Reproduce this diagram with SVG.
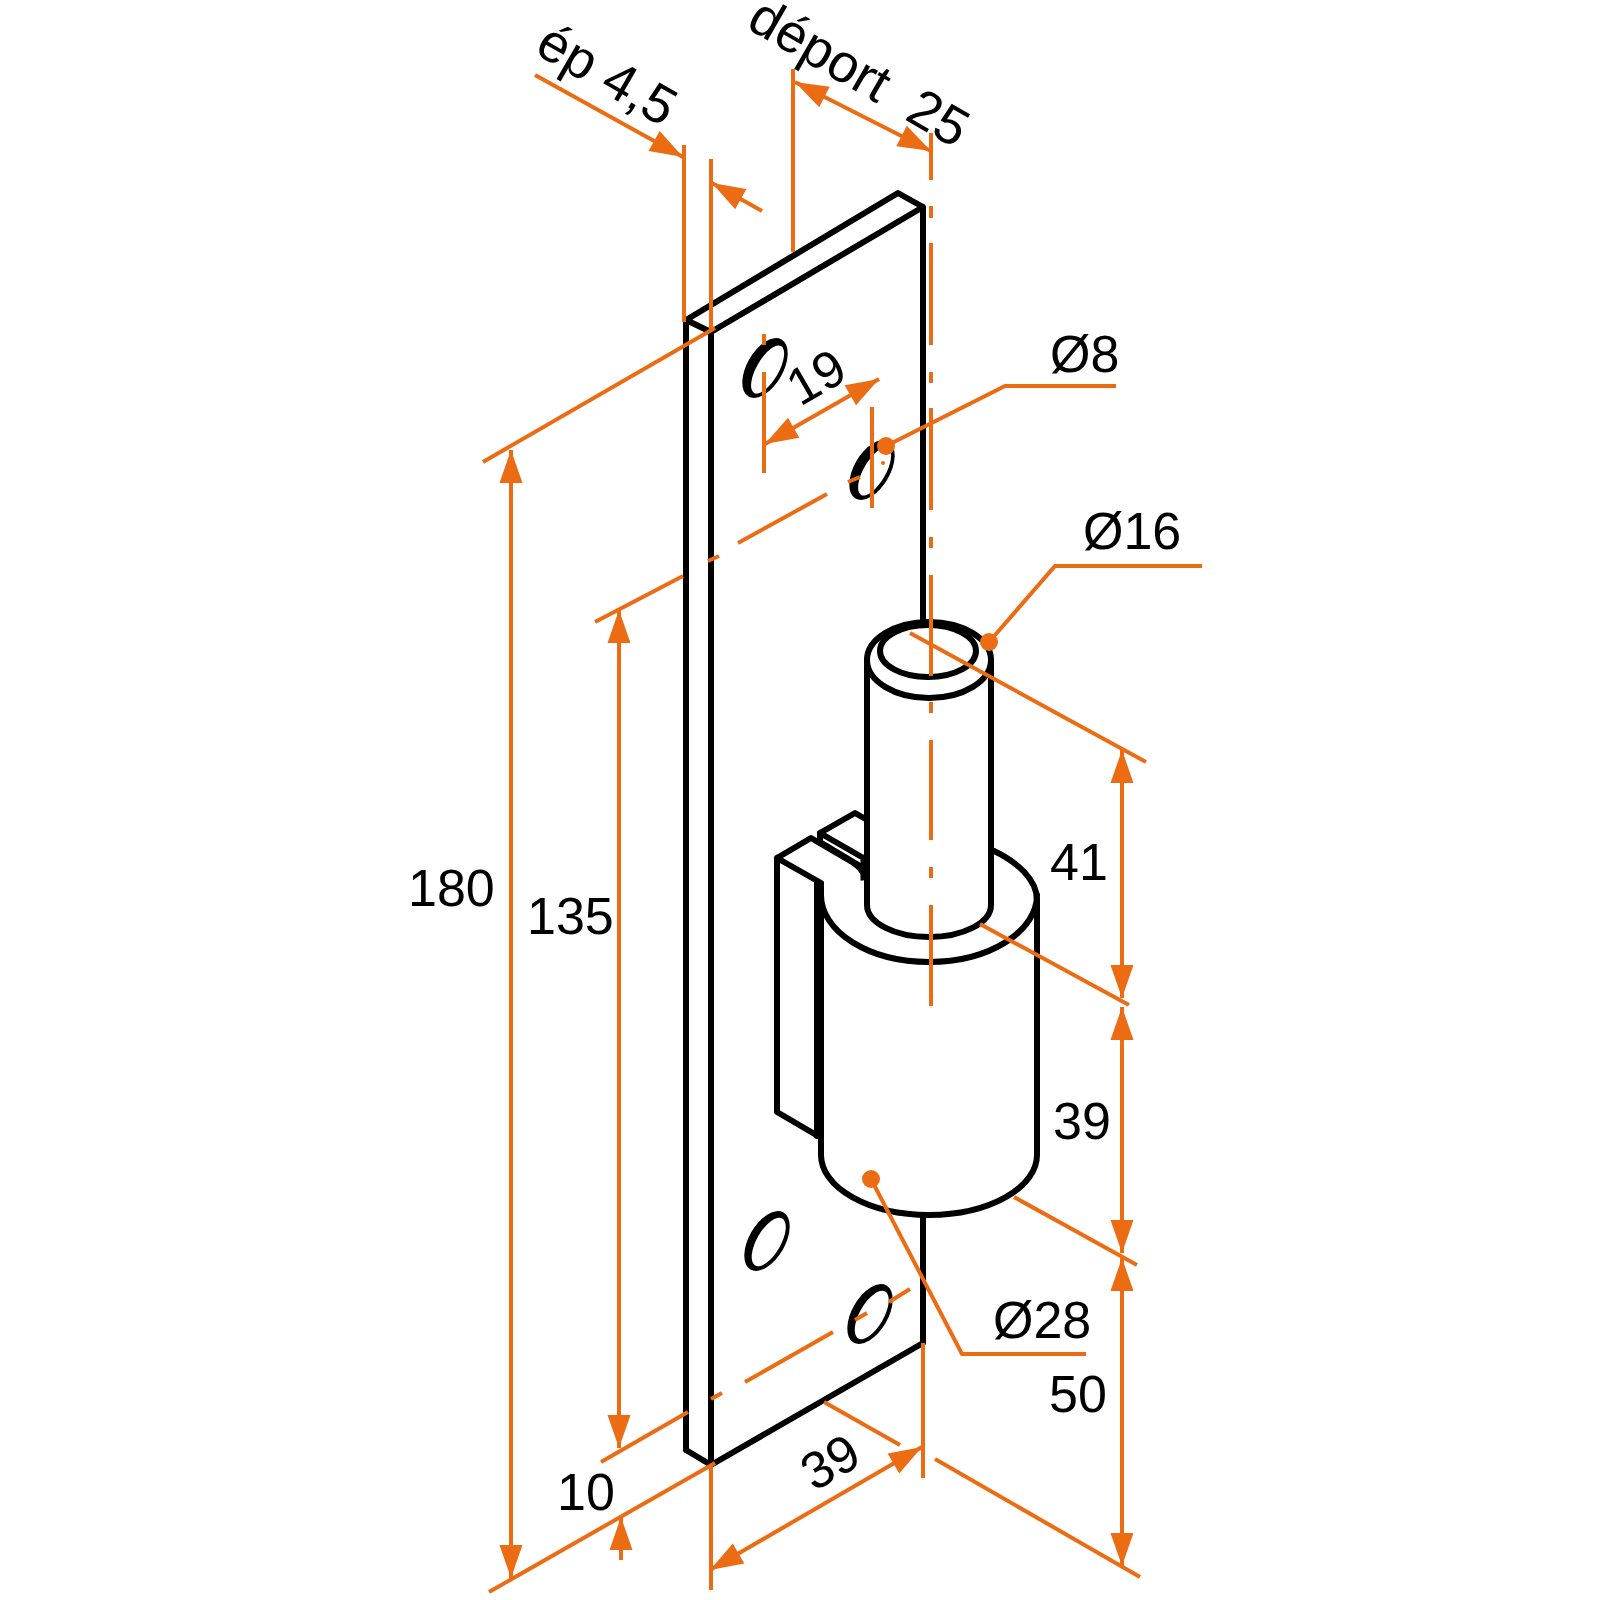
<svg xmlns="http://www.w3.org/2000/svg" width="1600" height="1600" viewBox="0 0 1600 1600">
<style>
.k{fill:none;stroke:#000;stroke-width:6;stroke-linejoin:round;stroke-linecap:round}
.w{fill:#fff;stroke:#000;stroke-width:6;stroke-linejoin:round}
.f{fill:#fff;stroke:none}
.hb{fill:#000}
.hw{fill:#fff}
.o{fill:none;stroke:#EC6C14;stroke-width:4}
.a{marker-end:url(#ah)}
.b{marker-start:url(#ahs);marker-end:url(#ah)}
.d{fill:#EC6C14}
text{font-family:"Liberation Sans",Arial,sans-serif;font-size:52px;fill:#000;white-space:pre}
.big{font-size:54px}
</style>
<defs>
<marker id="ah" markerUnits="userSpaceOnUse" viewBox="-34 -12 35 24" refX="0" refY="0" markerWidth="35" markerHeight="24" orient="auto"><path d="M0 0L-33 -11.5L-33 11.5Z" fill="#EC6C14"/></marker>
<marker id="ahs" markerUnits="userSpaceOnUse" viewBox="-1 -12 35 24" refX="0" refY="0" markerWidth="35" markerHeight="24" orient="auto"><path d="M0 0L33 -11.5L33 11.5Z" fill="#EC6C14"/></marker>
</defs>
<rect width="1600" height="1600" fill="#fff"/>
<g id="plate">
<path class="k" d="M686 1450V320L898 193L923 207V622M686 320L711 332L923 207M711 332V1465L686 1450M711 1465L923 1343V1217"/>
</g>
<g id="holes">
<g transform="translate(765 368) rotate(30)"><ellipse class="hb" rx="18" ry="33"/><ellipse class="hw" cx="3" cy="0" rx="11" ry="27"/></g>
<g transform="translate(872 470) rotate(30)"><ellipse class="hb" rx="18" ry="33"/><ellipse class="hw" cx="3" cy="0" rx="11" ry="27"/></g>
<g transform="translate(767 1241) rotate(30)"><ellipse class="hb" rx="18" ry="33"/><ellipse class="hw" cx="2" cy="0" rx="12" ry="27"/></g>
<g transform="translate(870 1314) rotate(30)"><ellipse class="hb" rx="18" ry="33"/><ellipse class="hw" cx="2" cy="0" rx="12" ry="27"/></g>
</g>
<g id="bracket">
<path class="f" d="M777 858L811 838L863 870V900H822V1136L777 1112Z"/>
<path class="k" d="M777 858V1112L818 1136M777 858L811 838L852 862Q862 868 867 880M777 858L821 883M820 833L855 813L869 821M820 833V842L860 866M820 833L860 856"/>
<path class="k" d="M864 858V880" style="stroke-width:7"/>
<path class="k" d="M817 883V1136"/>
</g>
<g id="barrel">
<path class="f" d="M821 885V1155A108 60 0 0 0 1037 1155V900C1037 880 1018 862 992 850L867 880Z"/>
<path class="k" d="M821 885V1155A108 60 0 0 0 1037 1155V900C1037 880 1018 862 992 850"/>
<path class="k" d="M821 895A108 67 0 0 0 1037 895"/>
</g>
<g id="pin">
<path class="w" d="M867 660V905A62 32 0 0 0 991 905V660Z"/>
<ellipse class="w" cx="929" cy="660" rx="62" ry="38"/>
<ellipse class="k" cx="928" cy="651" rx="48" ry="26"/>
</g>
<g id="connectors">
<path class="o" d="M684 145V322M711 159V330M793 69V252"/>
<path class="o" d="M931 133V180M931 206V218M931 243V345M931 372V383M931 408V510M931 537V548M931 575V676M931 702V713M931 740V840M931 867V878M931 905V1006"/>
<path class="o" d="M764 334V345M764 372V473M872 407V508"/>
<path class="o a" d="M535 75L683 157"/>
<path class="o a" d="M762 211L712 183"/>
<path class="o b" d="M795 82L931 151"/>
<path class="o b" d="M765 444L879 379"/>
<path class="o" d="M483 462L715 328M595 622L683 576M708 561L719 556M738 543L827 494M848 482L860 477"/>
<circle class="d" cx="883" cy="463" r="2"/>
<path class="o" d="M886 446L1005 386H1116"/>
<circle class="d" cx="886" cy="446" r="9"/>
<path class="o" d="M989 642L1055 566H1202"/>
<circle class="d" cx="989" cy="642" r="9"/>
<path class="o" d="M871 1179L962 1354H1086"/>
<circle class="d" cx="871" cy="1179" r="9"/>
<path class="o" d="M910 633L1146 762M980 924L1129 1005M1014 1197L1137 1265M935 1459L1140 1577"/>
<path class="o b" d="M511 450V1578"/>
<path class="o b" d="M619 610V1448"/>
<path class="o a" d="M621 1560V1517"/>
<path class="o b" d="M1122 750V998"/>
<path class="o b" d="M1122 1007V1253"/>
<path class="o b" d="M1122 1258V1566"/>
<path class="o" d="M715 1463L489 1592M601 1462L688 1412M711 1399L722 1393M745 1382L833 1332M855 1320L867 1313M889 1302L910 1289"/>
<path class="o" d="M711 1465V1590M923 1343V1478M824 1402L900 1445"/>
<path class="o b" d="M710 1570L922 1447"/>
</g>
<g id="labels">
<text x="408" y="906">180</text>
<text x="527" y="934">135</text>
<text x="557" y="1510">10</text>
<text x="1050" y="880">41</text>
<text x="1053" y="1139">39</text>
<text x="1049" y="1412">50</text>
<text x="993" y="1338">Ø28</text>
<text x="1050" y="372">Ø8</text>
<text x="1083" y="549">Ø16</text>
<text text-anchor="middle" transform="translate(830 1462) rotate(-30)" y="18">39</text>
<text text-anchor="middle" transform="translate(816 377) rotate(-30)" y="18">19</text>
<text class="big" text-anchor="middle" transform="translate(598 90) rotate(30)">ép 4,5</text>
<text class="big" text-anchor="middle" transform="translate(850 88) rotate(30)">déport  25</text>
</g>
</svg>
